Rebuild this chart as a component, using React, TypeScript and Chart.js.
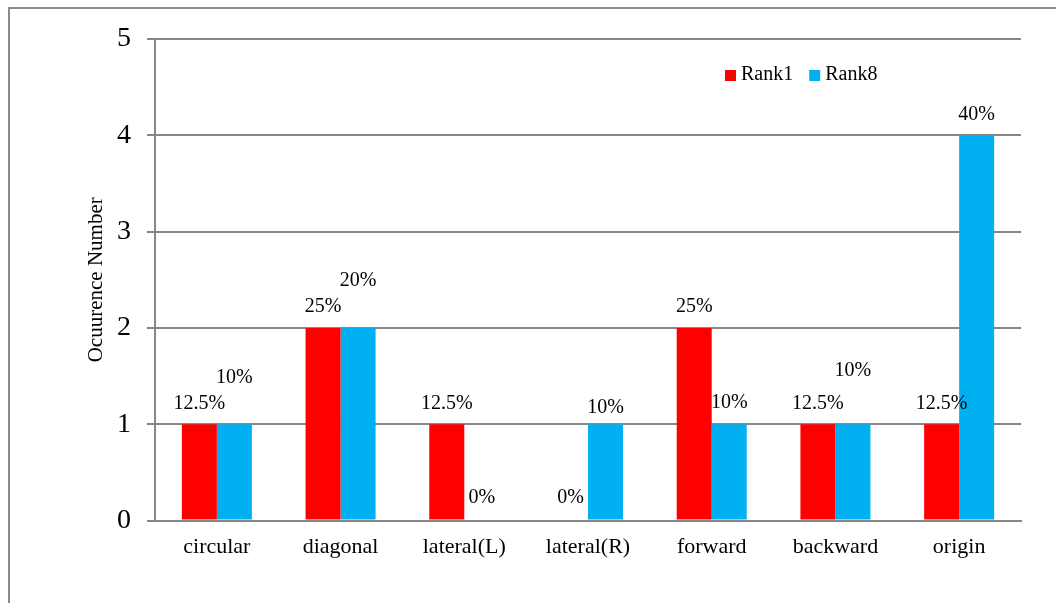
import React, { useEffect, useRef } from "react";
import { Chart, registerables } from "chart.js";

Chart.register(...registerables);

const categories = ["circular", "diagonal", "lateral(L)", "lateral(R)", "forward", "backward", "origin"];
const rank1Values = [1, 2, 1, 0, 2, 1, 1];
const rank8Values = [1, 2, 0, 1, 1, 1, 4];
const rank1Labels = ["12.5%", "25%", "12.5%", "0%", "25%", "12.5%", "12.5%"];
const rank8Labels = ["10%", "20%", "0%", "10%", "10%", "10%", "40%"];
const seriesNames = ["Rank1", "Rank8"];
const yTickValues = [0, 1, 2, 3, 4, 5];

// label placement tweaks (style only, px lift above the default spot)
const rank1Lift = [0, 0, 0, 2, 0, 0, 0];
const rank8Lift = [26, 26, 2, -4, 1, 33, 0];

const SERIF = '"Liberation Serif", "Times New Roman", serif';
const GRID = "#878787";

const pctLabelPlugin = {
  id: "pctLabels",
  afterDatasetsDraw(chart: any) {
    const ctx = chart.ctx;
    ctx.save();
    ctx.font = `20px ${SERIF}`;
    ctx.fillStyle = "#000";
    ctx.textAlign = "center";
    ctx.textBaseline = "middle";
    chart.data.datasets.forEach((ds: any, di: number) => {
      const meta = chart.getDatasetMeta(di);
      meta.data.forEach((el: any, i: number) => {
        const txt = ds.pctLabels[i];
        const lift = ds.lift[i];
        ctx.fillText(txt, el.x, el.y - 21 - lift);
      });
    });
    ctx.restore();
  },
};

const legendPlugin = {
  id: "customLegend",
  afterDraw(chart: any) {
    const ctx = chart.ctx;
    ctx.save();
    ctx.font = `20px ${SERIF}`;
    ctx.textBaseline = "middle";
    ctx.textAlign = "left";
    let x = 725;
    const y = 75;
    chart.data.datasets.forEach((ds: any) => {
      ctx.fillStyle = ds.backgroundColor;
      ctx.fillRect(x, y - 5, 11, 11);
      ctx.fillStyle = "#000";
      ctx.fillText(ds.label, x + 16, y);
      x += 16 + ctx.measureText(ds.label).width + 16;
    });
    ctx.restore();
  },
};

export default function App() {
  const canvasRef = useRef<HTMLCanvasElement | null>(null);

  useEffect(() => {
    if (!canvasRef.current) return;
    const padLeft = 75;
    const chart = new Chart(canvasRef.current, {
      type: "bar",
      data: {
        labels: categories,
        datasets: [
          {
            label: seriesNames[0],
            data: rank1Values,
            backgroundColor: "#FF0000",
            pctLabels: rank1Labels,
            lift: rank1Lift,
          } as any,
          {
            label: seriesNames[1],
            data: rank8Values,
            backgroundColor: "#00B0F0",
            pctLabels: rank8Labels,
            lift: rank8Lift,
          } as any,
        ],
      },
      options: {
        animation: false,
        responsive: false,
        maintainAspectRatio: false,
        layout: { padding: { left: padLeft, right: 35, top: 39, bottom: 30 } },
        datasets: { bar: { categoryPercentage: 0.566, barPercentage: 1 } },
        plugins: {
          legend: { display: false },
          tooltip: { enabled: false },
        },
        scales: {
          x: {
            grid: { display: true, drawOnChartArea: false, drawTicks: false },
            border: { display: true, color: GRID, width: 2 },
            ticks: { font: { family: SERIF, size: 22 }, color: "#000", padding: 13 },
          },
          y: {
            min: 0,
            max: 5,
            afterBuildTicks: (scale: any) => {
              scale.ticks = yTickValues.map((v) => ({ value: v }));
            },
            afterFit: (scale: any) => {
              scale.width = 155 - padLeft;
            },
            grid: { color: GRID, lineWidth: 2, tickLength: 8, drawTicks: true },
            border: { display: true, color: GRID, width: 2 },
            ticks: { font: { family: SERIF, size: 28 }, color: "#000", padding: 16 },
            title: {
              display: true,
              text: "Ocuurence Number",
              font: { family: SERIF, size: 21 },
              color: "#000",
              padding: { top: 9, bottom: 4 },
            },
          },
        },
      } as any,
      plugins: [pctLabelPlugin, legendPlugin],
    });
    return () => chart.destroy();
  }, []);

  return (
    <div style={{ position: "fixed", left: 0, top: 0, width: 1056, height: 603, background: "#fff", overflow: "hidden" }}>
      <div
        style={{
          position: "absolute",
          left: 8,
          top: 7,
          width: 1100,
          height: 700,
          borderLeft: "2px solid #8a8a8a",
          borderTop: "2px solid #8a8a8a",
        }}
      />
      <canvas ref={canvasRef} width={1056} height={603} style={{ position: "absolute", left: 0, top: 0, display: "block" }} />
    </div>
  );
}
